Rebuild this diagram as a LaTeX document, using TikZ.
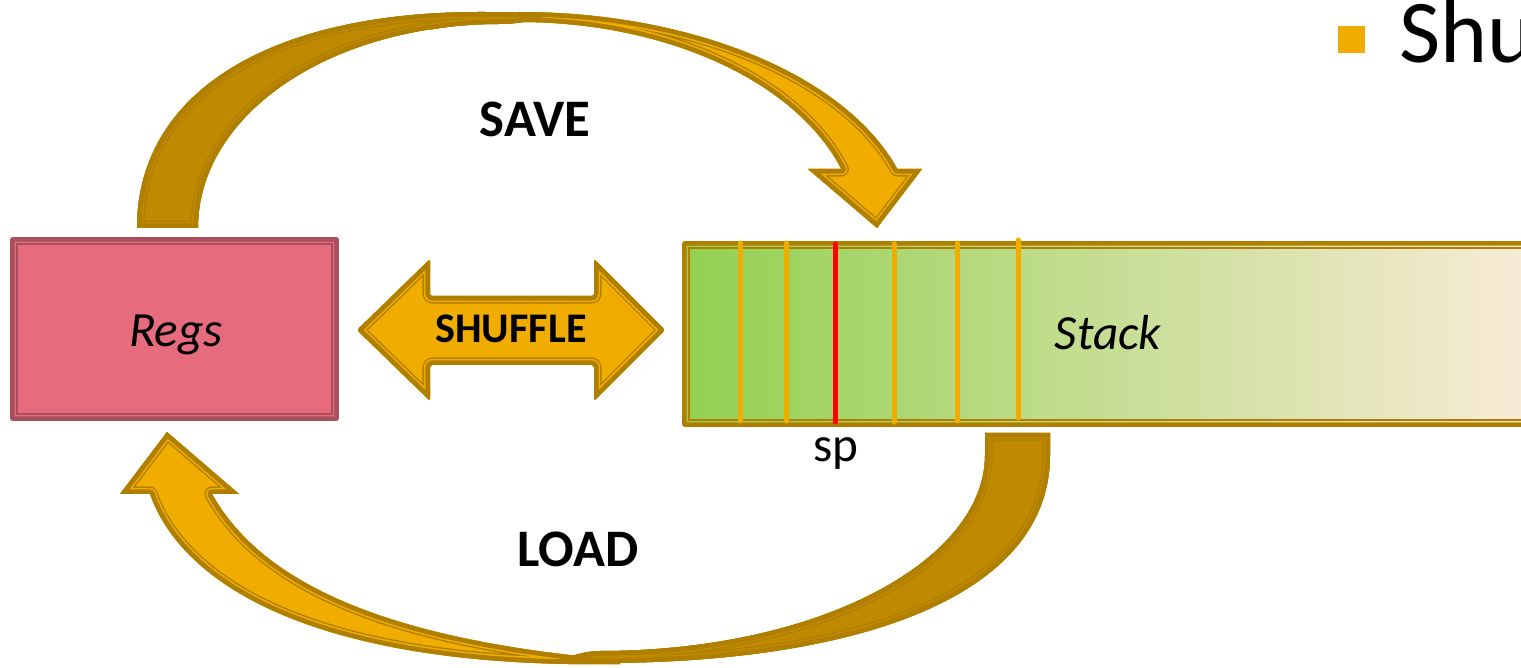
\documentclass[tikz,border=0pt]{standalone}
\usepackage{fontspec}
\setmainfont{Carlito}

\definecolor{edgecol}{RGB}{176,127,0}
\definecolor{bandlight}{RGB}{240,173,0}
\definecolor{banddark}{RGB}{192,138,0}
\definecolor{regsfill}{RGB}{229,107,125}
\definecolor{regsedge}{RGB}{168,79,94}
\definecolor{stackleft}{RGB}{146,208,80}
\definecolor{stackright}{RGB}{253,236,220}
\definecolor{spred}{RGB}{255,0,0}

% Filled outline with a compound (thick-thin) border drawn on its inside
\newcommand\bandshape[2]{%
  \fill[#1] #2;
  \begin{scope}
    \clip #2;
    \draw[line width=0.304cm, edgecol, line join=round] #2;
    \draw[line width=0.248cm, #1, line join=round] #2;
    \draw[line width=0.184cm, edgecol, line join=round] #2;
  \end{scope}}

\tikzset{
  lbl/.style={inner sep=0pt, outer sep=0pt, text=black, anchor=base},
  caption/.style={lbl, font=\bfseries\fontsize{30}{36}\selectfont},
  boxtext/.style={lbl, font=\itshape\fontsize{28}{34}\selectfont},
  divider/.style={line width=0.1cm, line cap=round, draw=bandlight},
  spdivider/.style={divider, draw=spred},
  plainbox/.style={rectangle, inner sep=0pt, outer sep=0pt, rounded corners=0.06cm},
}

\begin{document}
\begin{tikzpicture}[x=0.02cm, y=-0.02cm]
\useasboundingbox (0,0) rectangle (1521,668);
\clip (0,0) rectangle (1521,668);

% register file
\node[plainbox, fill=regsfill, minimum width=6.58cm, minimum height=3.68cm] (regs) at (174.5,329) {};
\begin{scope}
  \clip[rounded corners=0.06cm] (regs.south west) rectangle (regs.north east);
  \draw[line width=0.184cm, regsedge, rounded corners=0.06cm] (regs.south west) rectangle (regs.north east);
\end{scope}
\draw[line width=0.028cm, regsedge] ([xshift=0.138cm,yshift=0.138cm]regs.south west) rectangle ([xshift=-0.138cm,yshift=-0.138cm]regs.north east);
\node[boxtext] (regslabel) at (176,347) {Regs};

% stack
\node[plainbox, left color=stackleft, right color=stackright, minimum width=17.56cm, minimum height=3.72cm] (stack) at (1121,334) {};
\begin{scope}
  \clip[rounded corners=0.06cm] (stack.south west) rectangle (stack.north east);
  \draw[line width=0.184cm, edgecol, rounded corners=0.06cm] (stack.south west) rectangle (stack.north east);
\end{scope}
\draw[line width=0.028cm, edgecol] ([xshift=0.138cm,yshift=0.138cm]stack.south west) rectangle ([xshift=-0.138cm,yshift=-0.138cm]stack.north east);

% frame boundaries and stack pointer
\draw[divider] (740,243) -- (740,421);
\draw[divider] (786,243) -- (786,421);
\draw[spdivider] (835,244) -- (835,422);
\draw[divider] (894,244) -- (894,422);
\draw[divider] (957,243) -- (957,421);
\draw[divider] (1018,240) -- (1018,418);
\node[boxtext] (stacklabel) at (1108,350) {Stack};
\node[lbl, font=\fontsize{28}{34}\selectfont] (sp) at (836,462) {sp};

% shuffle double arrow
\bandshape{bandlight}{[rounded corners=0.05cm] (357,330) -- (430,259) -- (430,296) -- (594,296) -- (594,259) -- (665,330) -- (594,401) -- (594,365) -- (430,365) -- (430,401) -- cycle}
\node[lbl, font=\bfseries\fontsize{24}{29}\selectfont] (shuffle) at (511,343) {SHUFFLE};

% save arrow: front band with head, then back band tapering into it
\bandshape{bandlight}{plot[domain=103.17:17.22, samples=60, variable=\t] ({520+395*cos(\t)},{235-223*sin(\t)}) -- (922,169) -- (877,228) -- (808,169) -- plot[domain=18.07:105.45, samples=60, variable=\t] ({520+338*cos(\t)},{235-213*sin(\t)}) -- cycle}
\bandshape{banddark}{(137,228) .. controls (137,94) and (267,12) .. (480,12) .. controls (505,12) and (528,12.5) .. (552,13.5) .. controls (535,20) and (520,24) .. (500,24) .. controls (331,24) and (198,114) .. (198,228) -- cycle}
\node[caption] (save) at (535,137) {SAVE};

% load arrow: front band with head, then back band tapering into it
\bandshape{bandlight}{(620,660) .. controls (380,640) and (260,580) .. (212,494) -- (239,494) -- (167,432) -- (120,494) -- (150,494) .. controls (185,592) and (330,669) .. (620,664) -- cycle}
\bandshape{banddark}{(1050,433) -- (1050,455) .. controls (1050,600) and (850,663) .. (600,663) .. controls (585,663) and (570,663) .. (552,663) .. controls (570,656) and (585,651) .. (600,651) .. controls (820,651) and (985,560) .. (985,455) -- (985,433) -- cycle}
\node[caption] (load) at (578,566) {LOAD};

% bullet heading
\fill[bandlight] (1338,26) rectangle (1365,53);
\node[lbl, anchor=base west, font=\fontsize{51}{61}\selectfont] (heading) at (1399,63) {Shu};
\end{tikzpicture}
\end{document}
